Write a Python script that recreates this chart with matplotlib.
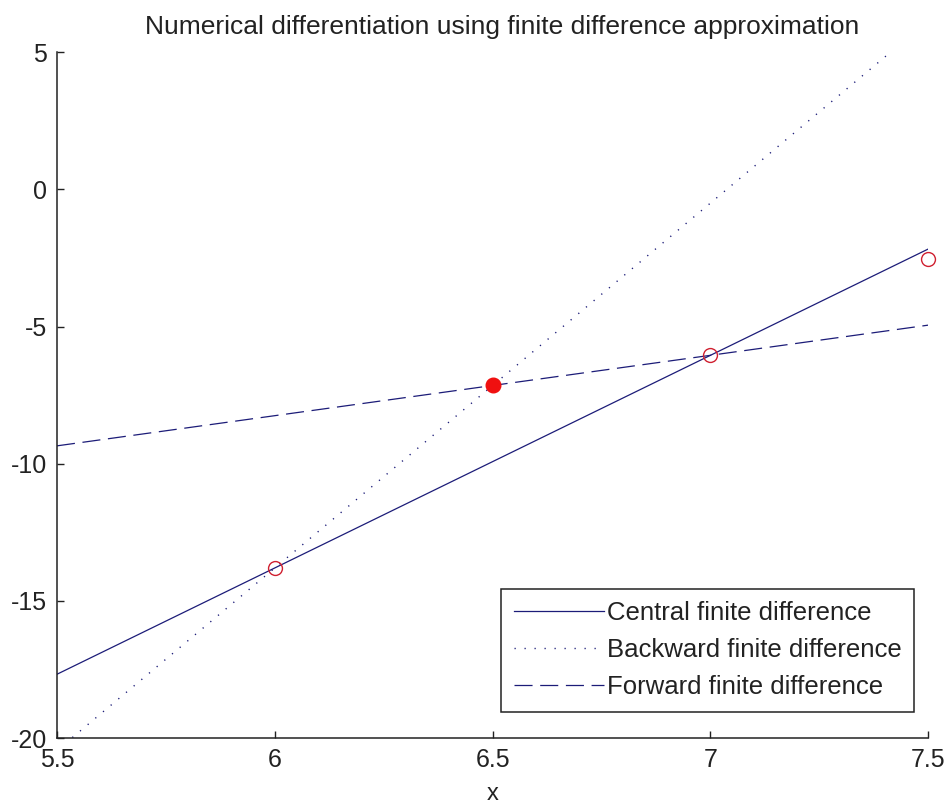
import matplotlib

matplotlib.use("Agg")
import matplotlib.pyplot as plt
import numpy as np

# sample points of f
x_pts = [6.0, 6.5, 7.0, 7.5]
f_pts = [-13.8, -7.15, -6.05, -2.55]
x_range = [5.5, 7.5]

x_ticks = [5.5, 6, 6.5, 7, 7.5]
y_ticks = [-20, -15, -10, -5, 0, 5]

title = "Numerical differentiation using finite difference approximation"
labels = ["Central finite difference", "Backward finite difference", "Forward finite difference"]

LINE = "#1c1c78"
plt.rcParams["font.family"] = ["Liberation Sans", "DejaVu Sans"]
plt.rcParams["lines.scale_dashes"] = False
plt.rcParams["axes.unicode_minus"] = False


def secant(x0, y0, x1, y1, xs):
    k = (y1 - y0) / (x1 - x0)
    return [y0 + k * (x - x0) for x in xs]


def main():
    fig = plt.figure(figsize=(9.47, 8.05), dpi=100)
    ax = fig.add_axes([0.0602, 0.0832, 0.920, 0.852])

    f = dict(zip(x_pts, f_pts))
    central = secant(6.0, f[6.0], 7.0, f[7.0], x_range)
    backward = secant(6.0, f[6.0], 6.5, f[6.5], x_range)
    forward = secant(6.5, f[6.5], 7.0, f[7.0], x_range)

    ax.plot(x_range, central, color=LINE, lw=0.9, ls="-", label=labels[0])
    ax.plot(x_range, backward, color=LINE, lw=1.0, ls=(0, (0.9, 6.3)), label=labels[1])
    ax.plot(x_range, forward, color=LINE, lw=0.9, ls=(0, (13, 5.5)), label=labels[2])

    open_x = [x for x in x_pts if x != 6.5]
    open_y = [f[x] for x in open_x]
    ax.plot(open_x, open_y, "o", mfc="none", mec="#d02030", ms=10, mew=1.0, clip_on=False)
    ax.plot([6.5], [f[6.5]], "o", color="#f01010", ms=10.5)

    ax.set_xlim(5.5, 7.5)
    ax.set_ylim(-20, 5)
    ax.set_xticks(x_ticks)
    ax.set_xticklabels(["5.5", "6", "6.5", "7", "7.5"])
    ax.set_yticks(y_ticks)
    ax.tick_params(direction="in", length=5, width=1, labelsize=18, pad=7, colors="#222222")
    for side in ("top", "right"):
        ax.spines[side].set_visible(False)
    for side in ("left", "bottom"):
        ax.spines[side].set_linewidth(1.1)
        ax.spines[side].set_color("#222222")

    ax.set_title(title, fontsize=19, pad=13, color="#222222", x=0.511)
    ax.set_xlabel("x", fontsize=17, labelpad=8, color="#222222")

    leg = ax.legend(loc="lower right", bbox_to_anchor=(0.984, 0.038), borderaxespad=0,
                    fontsize=18.5, fancybox=False, framealpha=1, handlelength=3.5,
                    handletextpad=0.12, labelspacing=0.5, borderpad=0.5)
    leg.get_frame().set_edgecolor("#222222")
    leg.get_frame().set_linewidth(1.1)
    for t in leg.get_texts():
        t.set_color("#222222")

    fig.savefig("out.png", dpi=100)
    plt.close(fig)


if __name__ == "__main__":
    main()
